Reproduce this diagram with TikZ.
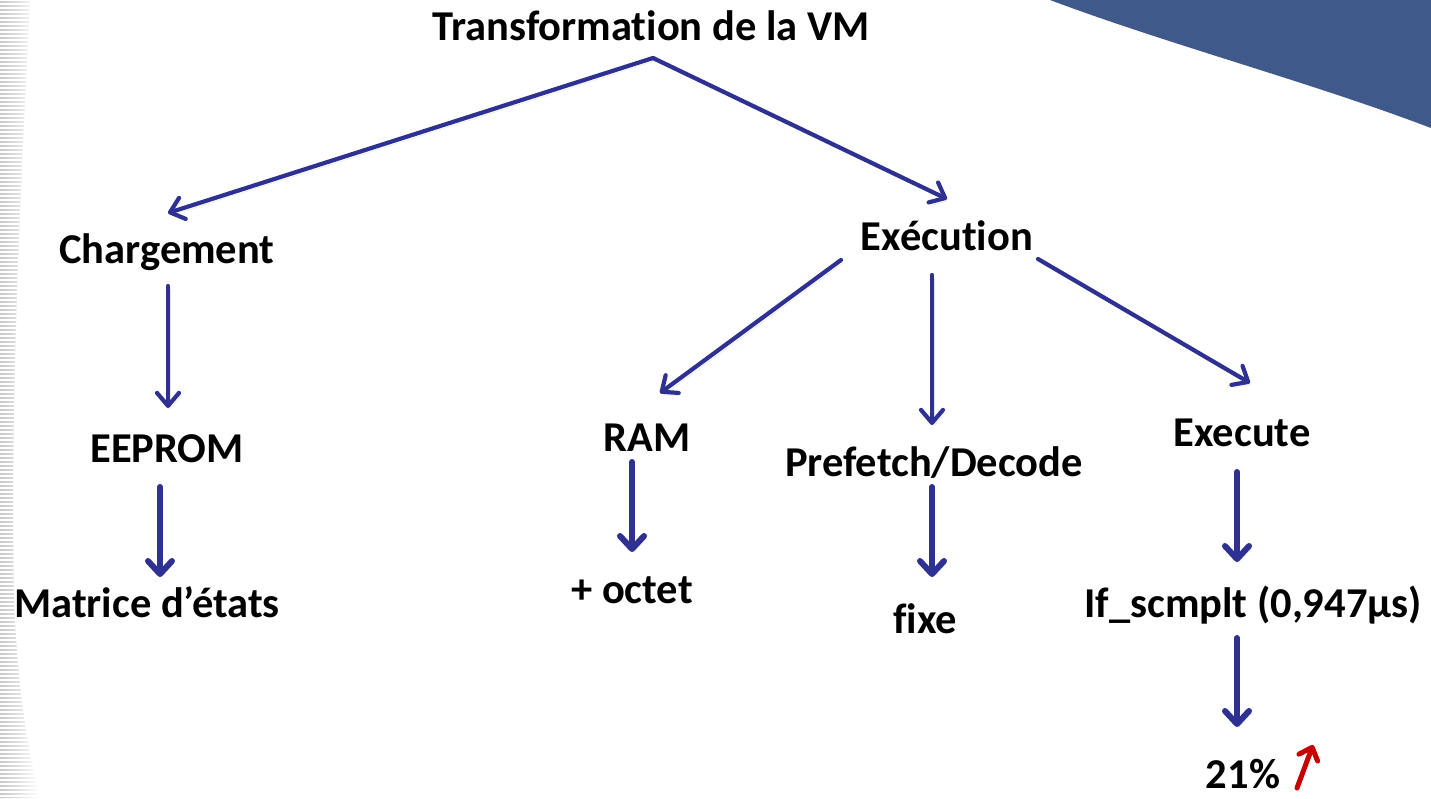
\documentclass[tikz,border=0pt]{standalone}
\usepackage{fontspec}
\setmainfont{Carlito}[Ligatures=CommonOff]
\usetikzlibrary{arrows.meta,calc}
\definecolor{navy}{RGB}{46,49,146}
\definecolor{swoosh}{RGB}{62,89,138}
\definecolor{redarr}{RGB}{200,0,0}
\tikzset{
  lbl/.style={anchor=base, inner sep=0pt, font=\fontsize{42.5}{50}\selectfont\bfseries, text=black},
  shadowed/.style={preaction={draw=black!30, opacity=0.35, transform canvas={xshift=2pt,yshift=-3pt}}},
  arr/.style={draw=navy, line width=4.2pt, line cap=round, shadowed,
    -{Straight Barb[length=13pt,width=22pt,line cap=round,line join=round]}},
  thickarr/.style={draw=navy, line width=6pt, line cap=round, shadowed,
    -{Straight Barb[length=13pt,width=24pt,line cap=round,line join=round]}},
  redarrow/.style={draw=redarr, line width=5pt, line cap=round,
    -{Straight Barb[length=11pt,width=20pt,line cap=round,line join=round]}}
}
\begin{document}
\begin{tikzpicture}[x=1pt,y=-1pt]
\useasboundingbox (0,0) rectangle (1431,798);
\fill[white] (0,0) rectangle (1431,798);
% left faint stripes
\begin{scope}
  \clip (0,0) -- (30,0) .. controls (20,200) and (10,400) .. (14,600) .. controls (18,700) and (30,760) .. (40,798) -- (0,798) -- cycle;
  \shade[left color=black!22, right color=white] (0,0) rectangle (40,798);
  \foreach \yy in {0,4,...,796} { \draw[white, line width=1.4pt] (0,\yy) -- (45,\yy); }
\end{scope}
% top-right swoosh
\fill[swoosh] (1050,0) .. controls (1170,45) and (1310,82) .. (1431,128) -- (1431,0) -- cycle;

% nodes
\node[lbl] (title) at (651,40) {Transformation de la VM};
\node[lbl] (charg) at (167,263) {Chargement};
\node[lbl] (exec) at (947,250) {Exécution};
\node[lbl] (eeprom) at (167,462) {EEPROM};
\node[lbl] (matrice) at (147,617) {Matrice d’états};
\node[lbl] (ram) at (647,451) {RAM};
\node[lbl] (prefetch) at (934,476) {Prefetch/Decode};
\node[lbl] (execute) at (1242,446) {Execute};
\node[lbl] (octet) at (632,603) {+ octet};
\node[lbl] (fixe) at (925,633) {fixe};
\node[lbl] (ifs) at (1253,617) {If\_scmplt (0,947µs)};
\node[lbl] (pct) at (1243,788) {21\%};

\coordinate (apex) at ($(title.base)+(2,18)$);
% connectors
\draw[arr] (apex) -- ($(charg.base)+(1,-50)$);
\draw[arr] (apex) -- ($(exec.base)+(0,-51)$);
\draw[arr] ($(exec.base)+(-106,10)$) -- ($(ram.base)+(13,-58)$);
\draw[arr] ($(exec.base)+(-15,25)$) -- ($(prefetch.base)+(-2,-51)$);
\draw[arr] ($(exec.base)+(91,9)$) -- ($(execute.base)+(8,-63)$);
\draw[arr] ($(charg.base)+(1,23)$) -- ($(eeprom.base)+(1,-54)$);
\draw[thickarr] ($(eeprom.base)+(-7,25)$) -- ($(matrice.base)+(13,-40)$);
\draw[thickarr] ($(ram.base)+(-15,11)$) -- ($(octet.base)+(0,-51)$);
\draw[thickarr] ($(prefetch.base)+(-2,11)$) -- ($(fixe.base)+(7,-56)$);
\draw[thickarr] ($(execute.base)+(-5,26)$) -- ($(ifs.base)+(-16,-55)$);
\draw[thickarr] ($(ifs.base)+(-16,21)$) -- ($(pct.base)+(-6,-61)$);
\draw[redarrow] ($(pct.base)+(54,0)$) -- ($(pct.base)+(70,-43)$);
\end{tikzpicture}
\end{document}
